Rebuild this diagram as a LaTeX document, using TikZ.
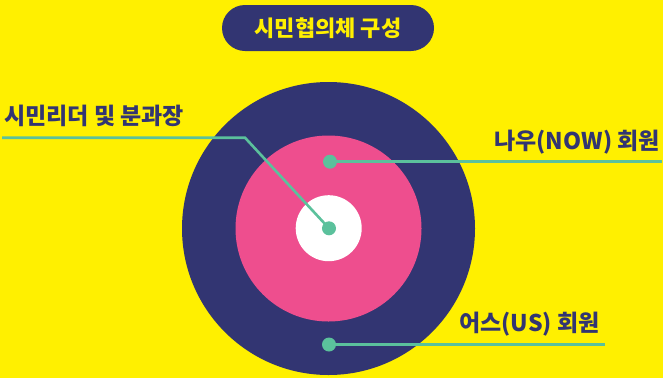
\documentclass[tikz,border=0pt]{standalone}
\usepackage{fontspec}
\setmainfont{Noto Sans CJK KR}
\definecolor{bgyellow}{RGB}{255,240,0}
\definecolor{navy}{RGB}{50,53,114}
\definecolor{pinkc}{RGB}{238,78,142}
\definecolor{greenc}{RGB}{91,193,156}
\begin{document}
\begin{tikzpicture}[x=1pt,y=-1pt,
  label/.style={font=\fontsize{23}{25}\selectfont\bfseries, text=navy, inner sep=0pt},
  dotc/.style={circle, fill=greenc, minimum size=14pt, inner sep=0pt},
  conn/.style={draw=greenc, line width=2.6pt}]
\useasboundingbox (0,0) rectangle (663,378);
\fill[bgyellow] (0,0) rectangle (663,378);
\begin{scope}
\clip (0,0) rectangle (663,378);
\fill[navy] (328.5,228.5) circle (146.5);
\end{scope}
\fill[pinkc] (328.5,228.5) circle (93);
\fill[white] (328.7,228.2) circle (33);
% title
\node[fill=navy, rounded corners=23pt, minimum width=212pt, minimum height=46pt, inner sep=0pt,
  text=bgyellow, font=\fontsize{22}{24}\selectfont\bfseries] (title) at (328,28) {시민협의체 구성};
% coordinates
\coordinate (dc) at (329,228.3);
\coordinate (dn) at (330,161.7);
\coordinate (du) at (329,344.5);
\coordinate (l0) at (2,137.7);
\coordinate (l1) at (245,137.7);
\coordinate (n1) at (661.5,161.7);
\coordinate (u1) at (605,344.5);
% connectors
\draw[conn] (l0) -- (l1) -- (dc);
\draw[conn] (dn) -- (n1);
\draw[conn] (du) -- (u1);
% dots
\node[dotc] (dotc1) at (dc) {};
\node[dotc] (dotn) at (dn) {};
\node[dotc] (dotu) at (du) {};
% labels
\node[label, anchor=west] (lleft) at (4,116) {시민리더 및 분과장};
\node[label, anchor=east] (lnow) at (660,142) {나우(NOW) 회원};
\node[label, anchor=west] (lus) at (459,324) {어스(US) 회원};
\end{tikzpicture}
\end{document}
